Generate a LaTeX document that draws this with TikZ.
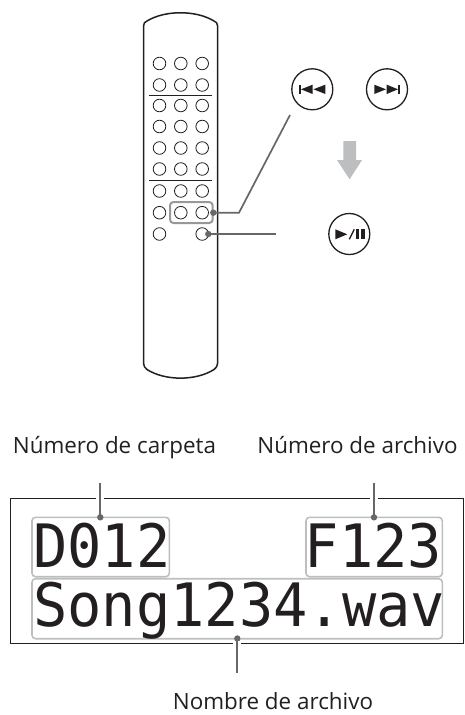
\documentclass[tikz,border=0pt]{standalone}
\usepackage{fontspec}
\usepackage{xcolor}
\setmainfont{Open Sans}
\newfontfamily\lcdfont{DejaVu Sans Mono}
\usetikzlibrary{
  calc,
  positioning,
  arrows.meta
}
\definecolor{inkdark}{HTML}{231F20}
\definecolor{leadgray}{HTML}{666769}
\definecolor{boxgray}{HTML}{BCBEC0}

\begin{document}
\begin{tikzpicture}[x=1pt,y=-1pt,>=Latex]
  \tikzset{
    keyhole/.style={draw=inkdark, line width=0.8pt, circle, minimum size=12.6pt, inner sep=0pt},
    bigkey/.style={draw=inkdark, line width=1.3pt, circle, minimum size=41pt, inner sep=0pt},
    leader/.style={draw=leadgray, line width=1.7pt},
    leaddot/.style={fill=leadgray, circle, minimum size=6.4pt, inner sep=0pt},
    groupbox/.style={draw=boxgray, line width=1.6pt, rounded corners=3.5pt},
    caption/.style={font=\fontsize{22.4}{25}\selectfont, text=inkdark, inner sep=0pt, anchor=base},
    lcdtext/.style={font=\lcdfont\fontsize{57}{60}\selectfont, text=inkdark, inner sep=0pt, anchor=base west, yscale=1.05}
  }
  \useasboundingbox (0,0) rectangle (464,715);

  % remote
  \draw[inkdark, line width=1.5pt]
    (143.5,363) -- (143.5,26)
    .. controls (143.5,23) and (145,22) .. (147,21)
    .. controls (165,10) and (196,10) .. (214,21)
    .. controls (216,22) and (217.7,23) .. (217.7,26)
    -- (217.7,363)
    .. controls (217.7,366) and (216,368) .. (214,369.5)
    .. controls (196,381) and (165,381) .. (147,369.5)
    .. controls (145,368) and (143.5,366) .. (143.5,363) -- cycle;

  \foreach \rowy/\rowname in {63.5/a,85/b,105.5/c,126.5/d,148/e,169/f,191/g,212.7/h} {
    \node[keyhole] (k1\rowname) at (159.5,\rowy) {};
    \node[keyhole] (k2\rowname) at (180.8,\rowy) {};
    \node[keyhole] (k3\rowname) at (202.2,\rowy) {};
  }
  \node[keyhole] (k1i) at (159.5,234) {};
  \node[keyhole] (k3i) at (202.2,234) {};

  \draw[inkdark, line width=1.5pt] (149,95.7) -- (211.7,95.7);
  \draw[inkdark, line width=1.5pt] (149,180.7) -- (211.7,180.7);

  \draw[groupbox, draw=boxgray!80!black, line width=2pt] (170,202) rectangle (212.7,223);

  % big keys
  \node[bigkey] (prevkey) at (312.3,89.3) {};
  \node[bigkey] (nextkey) at (387,89.3) {};
  \node[bigkey] (playkey) at (349.3,234) {};

  \fill[inkdark] (299.3,84.7) rectangle (301.3,94);
  \fill[inkdark] (301,89.3) -- (312.6,84.7) -- (312.6,94) -- cycle;
  \fill[inkdark] (313.4,89.3) -- (325.3,84.7) -- (325.3,94) -- cycle;

  \fill[inkdark] (374.3,84.7) -- (386,89.3) -- (374.3,94) -- cycle;
  \fill[inkdark] (386.7,84.7) -- (398,89.3) -- (386.7,94) -- cycle;
  \fill[inkdark] (398,84.7) rectangle (400,94);

  \fill[inkdark] (335.3,229.3) -- (347.3,234.3) -- (335.3,239.3) -- cycle;
  \draw[inkdark, line width=1.4pt] (349.3,239.3) -- (354.3,229.3);
  \fill[inkdark] (355.7,229.3) rectangle (359.3,239.3);
  \fill[inkdark] (360.7,229.3) rectangle (364.7,239.3);

  % down arrow
  \fill[boxgray] (343.3,141) -- (356,141) -- (356,160) -- (362,160)
    -- (349.6,179.3) -- (337,160) -- (343.3,160) -- cycle;

  % leaders from the remote
  \node[leaddot] (skipdot) at (213.3,212.7) {};
  \coordinate (skipbend) at (239,212.7);
  \coordinate (skipend) at (290,115);
  \draw[leader] (skipdot.center) -- (skipbend) -- (skipend);

  \node[leaddot] (playdot) at (208.3,234) {};
  \coordinate (playend) at (276,234);
  \draw[leader] (playdot.center) -- (playend);

  % display
  \draw[inkdark, line width=0.9pt] (10.3,498.5) rectangle (463.3,643.3);

  \draw[groupbox] (32,517.3) rectangle (169.3,576.7);
  \draw[groupbox] (306,517.3) rectangle (442.3,576.7);
  \draw[groupbox] (32,578.7) rectangle (442.3,638.7);

  \node[lcdtext] (foldercode) at (33,567.7) {D012};
  \node[lcdtext] (filecode) at (304.5,567.7) {F123};
  \node[lcdtext] (filename) at (33,626.7) {Song1234.wav};

  \node[caption] (foldername) at (114.5,453.3) {Número de carpeta};
  \node[caption] (filelabel) at (357.5,453.3) {Número de archivo};
  \node[caption] (namelabel) at (273,709.5) {Nombre de archivo};

  \node[leaddot] (folderdot) at (100.3,517.3) {};
  \node[leaddot] (filedot) at (374,517.3) {};
  \node[leaddot] (namedot) at (237.3,638.5) {};
  \coordinate (foldertop) at (100.3,483);
  \coordinate (filetop) at (374,483);
  \coordinate (namebottom) at (237.3,672.7);

  \draw[white, line width=8pt] (100.3,494) -- (100.3,503);
  \draw[white, line width=8pt] (374,494) -- (374,503);
  \draw[white, line width=8pt] (237.3,641) -- (237.3,648);
  \draw[leader] (folderdot.center) -- (foldertop);
  \draw[leader] (filedot.center) -- (filetop);
  \draw[leader] (namedot.center) -- (namebottom);

\end{tikzpicture}
\end{document}
